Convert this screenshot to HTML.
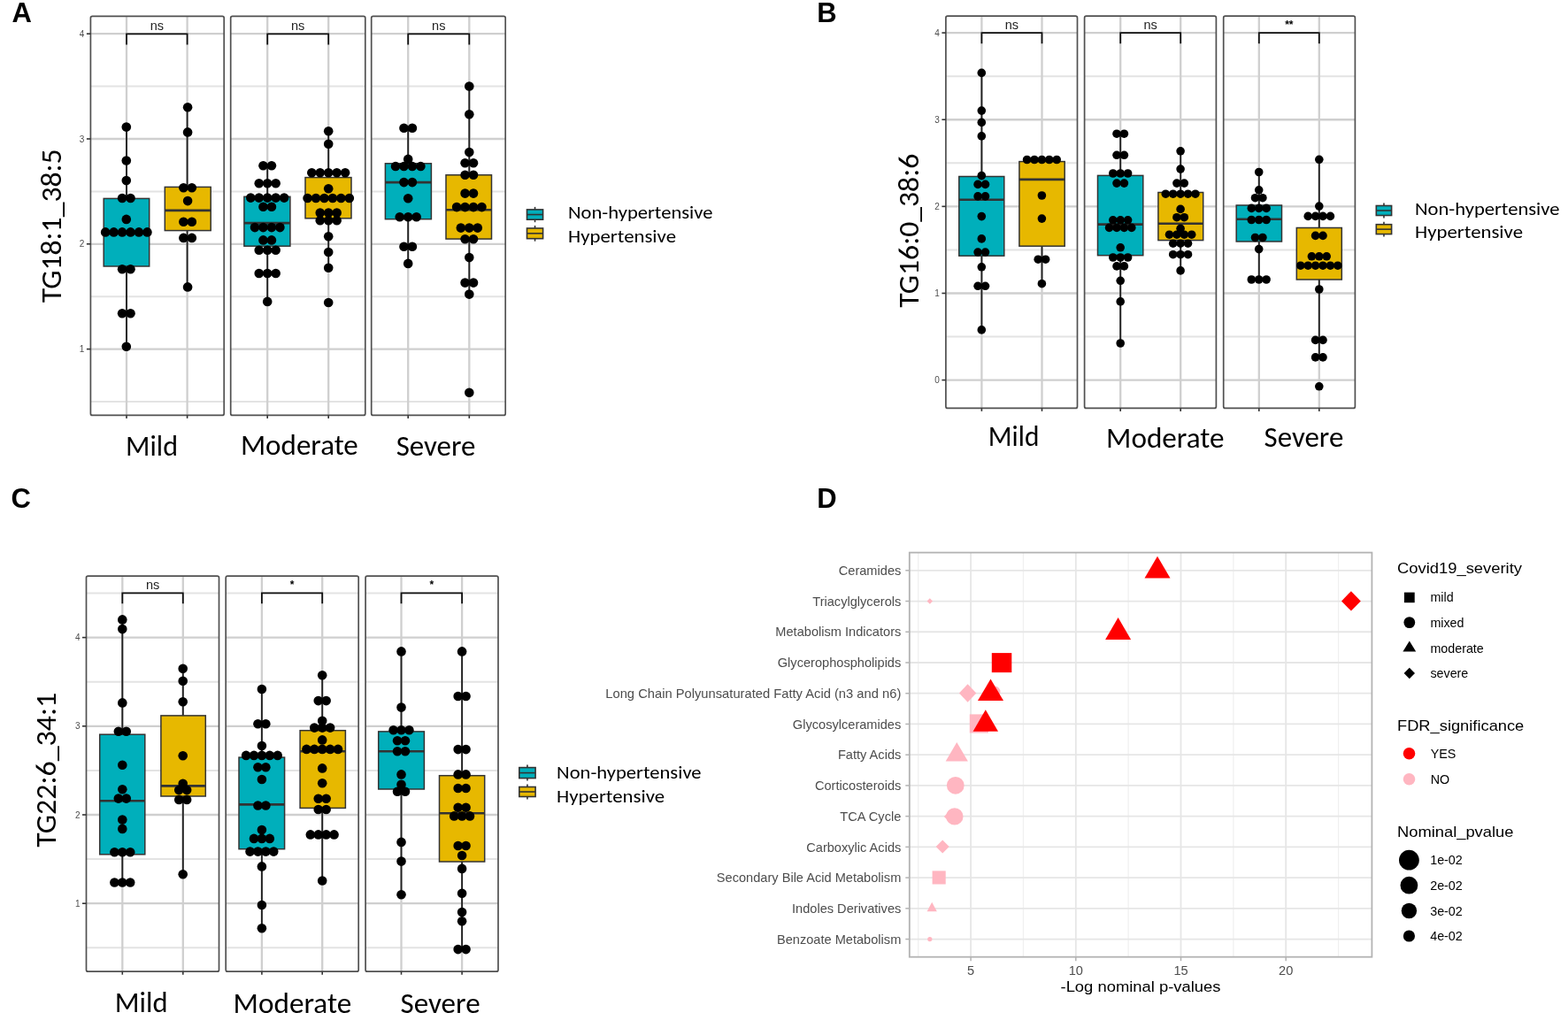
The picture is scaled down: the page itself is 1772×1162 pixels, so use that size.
<!DOCTYPE html>
<html><head><meta charset="utf-8"><title>Figure</title>
<style>html,body{margin:0;padding:0;background:#fff;}svg{display:block;}</style>
</head><body>
<svg width="1772" height="1162" viewBox="0 0 1772 1162">
<rect width="1772" height="1162" fill="#fff"/>
<g>
<line x1="102.4" y1="454" x2="253.2" y2="454" stroke="#e3e3e3" stroke-width="2" />
<line x1="102.4" y1="335.2" x2="253.2" y2="335.2" stroke="#e3e3e3" stroke-width="2" />
<line x1="102.4" y1="216.4" x2="253.2" y2="216.4" stroke="#e3e3e3" stroke-width="2" />
<line x1="102.4" y1="97.6" x2="253.2" y2="97.6" stroke="#e3e3e3" stroke-width="2" />
<line x1="102.4" y1="394.6" x2="253.2" y2="394.6" stroke="#cfcfcf" stroke-width="2.3" />
<line x1="102.4" y1="275.8" x2="253.2" y2="275.8" stroke="#cfcfcf" stroke-width="2.3" />
<line x1="102.4" y1="157" x2="253.2" y2="157" stroke="#cfcfcf" stroke-width="2.3" />
<line x1="102.4" y1="38.2" x2="253.2" y2="38.2" stroke="#cfcfcf" stroke-width="2.3" />
<line x1="143" y1="18.3" x2="143" y2="469.4" stroke="#cfcfcf" stroke-width="2.3" />
<line x1="211.6" y1="18.3" x2="211.6" y2="469.4" stroke="#cfcfcf" stroke-width="2.3" />
<line x1="260.7" y1="454" x2="412.8" y2="454" stroke="#e3e3e3" stroke-width="2" />
<line x1="260.7" y1="335.2" x2="412.8" y2="335.2" stroke="#e3e3e3" stroke-width="2" />
<line x1="260.7" y1="216.4" x2="412.8" y2="216.4" stroke="#e3e3e3" stroke-width="2" />
<line x1="260.7" y1="97.6" x2="412.8" y2="97.6" stroke="#e3e3e3" stroke-width="2" />
<line x1="260.7" y1="394.6" x2="412.8" y2="394.6" stroke="#cfcfcf" stroke-width="2.3" />
<line x1="260.7" y1="275.8" x2="412.8" y2="275.8" stroke="#cfcfcf" stroke-width="2.3" />
<line x1="260.7" y1="157" x2="412.8" y2="157" stroke="#cfcfcf" stroke-width="2.3" />
<line x1="260.7" y1="38.2" x2="412.8" y2="38.2" stroke="#cfcfcf" stroke-width="2.3" />
<line x1="302.2" y1="18.3" x2="302.2" y2="469.4" stroke="#cfcfcf" stroke-width="2.3" />
<line x1="371.2" y1="18.3" x2="371.2" y2="469.4" stroke="#cfcfcf" stroke-width="2.3" />
<line x1="419.7" y1="454" x2="571.2" y2="454" stroke="#e3e3e3" stroke-width="2" />
<line x1="419.7" y1="335.2" x2="571.2" y2="335.2" stroke="#e3e3e3" stroke-width="2" />
<line x1="419.7" y1="216.4" x2="571.2" y2="216.4" stroke="#e3e3e3" stroke-width="2" />
<line x1="419.7" y1="97.6" x2="571.2" y2="97.6" stroke="#e3e3e3" stroke-width="2" />
<line x1="419.7" y1="394.6" x2="571.2" y2="394.6" stroke="#cfcfcf" stroke-width="2.3" />
<line x1="419.7" y1="275.8" x2="571.2" y2="275.8" stroke="#cfcfcf" stroke-width="2.3" />
<line x1="419.7" y1="157" x2="571.2" y2="157" stroke="#cfcfcf" stroke-width="2.3" />
<line x1="419.7" y1="38.2" x2="571.2" y2="38.2" stroke="#cfcfcf" stroke-width="2.3" />
<line x1="461.2" y1="18.3" x2="461.2" y2="469.4" stroke="#cfcfcf" stroke-width="2.3" />
<line x1="530.3" y1="18.3" x2="530.3" y2="469.4" stroke="#cfcfcf" stroke-width="2.3" />
<line x1="143" y1="143.6" x2="143" y2="391.7" stroke="#222" stroke-width="1.9" />
<rect x="117.2" y="224.4" width="51.5" height="76.6" fill="#00AFBB" stroke="#333" stroke-width="1.5" />
<line x1="117.2" y1="262.2" x2="168.7" y2="262.2" stroke="#333" stroke-width="2.6" />
<line x1="211.6" y1="121.2" x2="211.6" y2="324.5" stroke="#222" stroke-width="1.9" />
<rect x="186.3" y="211.4" width="51.9" height="49.2" fill="#E7B800" stroke="#333" stroke-width="1.5" />
<line x1="186.3" y1="237.9" x2="238.2" y2="237.9" stroke="#333" stroke-width="2.6" />
<g fill="#000"><circle cx="142.8" cy="143.6" r="5.3"/><circle cx="142.8" cy="181.5" r="5.3"/><circle cx="142.8" cy="204.1" r="5.3"/><circle cx="138.08" cy="224" r="5.3"/><circle cx="147.53" cy="224" r="5.3"/><circle cx="142.8" cy="247.9" r="5.3"/><circle cx="119.18" cy="262.4" r="5.3"/><circle cx="128.62" cy="262.4" r="5.3"/><circle cx="138.08" cy="262.4" r="5.3"/><circle cx="147.53" cy="262.4" r="5.3"/><circle cx="156.98" cy="262.4" r="5.3"/><circle cx="166.43" cy="262.4" r="5.3"/><circle cx="138.08" cy="304.2" r="5.3"/><circle cx="147.53" cy="304.2" r="5.3"/><circle cx="138.08" cy="354.3" r="5.3"/><circle cx="147.53" cy="354.3" r="5.3"/><circle cx="142.8" cy="391.7" r="5.3"/></g>
<g fill="#000"><circle cx="212.1" cy="121.2" r="5.3"/><circle cx="212.1" cy="149.4" r="5.3"/><circle cx="207.38" cy="212.3" r="5.3"/><circle cx="216.82" cy="212.3" r="5.3"/><circle cx="212.1" cy="227.1" r="5.3"/><circle cx="207.38" cy="250.8" r="5.3"/><circle cx="216.82" cy="250.8" r="5.3"/><circle cx="207.38" cy="268.9" r="5.3"/><circle cx="216.82" cy="268.9" r="5.3"/><circle cx="212.1" cy="324.4" r="5.3"/></g>
<path d="M143 50.4 V38.4 H211.6 V50.4" fill="none" stroke="#111" stroke-width="1.8"/>
<text x="177.3" y="33.9" font-size="14.5" fill="#222" font-family="'Liberation Sans', Arial, sans-serif" text-anchor="middle" font-weight="normal" >ns</text>
<rect x="102.4" y="18.3" width="150.8" height="451.1" fill="none" stroke="#505050" stroke-width="1.7" rx="2"/>
<line x1="143" y1="469.4" x2="143" y2="472.9" stroke="#333" stroke-width="1.6" />
<line x1="211.6" y1="469.4" x2="211.6" y2="472.9" stroke="#333" stroke-width="1.6" />
<line x1="302.2" y1="187.2" x2="302.2" y2="340.9" stroke="#222" stroke-width="1.9" />
<rect x="275.9" y="222.3" width="52" height="55.9" fill="#00AFBB" stroke="#333" stroke-width="1.5" />
<line x1="275.9" y1="252.1" x2="327.9" y2="252.1" stroke="#333" stroke-width="2.6" />
<line x1="371.2" y1="148.3" x2="371.2" y2="302.8" stroke="#222" stroke-width="1.9" />
<rect x="345" y="200.6" width="52" height="46.2" fill="#E7B800" stroke="#333" stroke-width="1.5" />
<line x1="345" y1="224" x2="397" y2="224" stroke="#333" stroke-width="2.6" />
<g fill="#000"><circle cx="297.47" cy="187.2" r="5.3"/><circle cx="306.93" cy="187.2" r="5.3"/><circle cx="292.75" cy="207.3" r="5.3"/><circle cx="302.2" cy="207.3" r="5.3"/><circle cx="311.65" cy="207.3" r="5.3"/><circle cx="283.3" cy="223.6" r="5.3"/><circle cx="292.75" cy="223.6" r="5.3"/><circle cx="302.2" cy="223.6" r="5.3"/><circle cx="311.65" cy="223.6" r="5.3"/><circle cx="321.1" cy="223.6" r="5.3"/><circle cx="297.47" cy="233.8" r="5.3"/><circle cx="306.93" cy="233.8" r="5.3"/><circle cx="288.02" cy="257.1" r="5.3"/><circle cx="297.47" cy="257.1" r="5.3"/><circle cx="306.93" cy="257.1" r="5.3"/><circle cx="316.38" cy="257.1" r="5.3"/><circle cx="297.47" cy="271.4" r="5.3"/><circle cx="306.93" cy="271.4" r="5.3"/><circle cx="292.75" cy="282.8" r="5.3"/><circle cx="302.2" cy="282.8" r="5.3"/><circle cx="311.65" cy="282.8" r="5.3"/><circle cx="292.75" cy="309" r="5.3"/><circle cx="302.2" cy="309" r="5.3"/><circle cx="311.65" cy="309" r="5.3"/><circle cx="302.2" cy="340.9" r="5.3"/></g>
<g fill="#000"><circle cx="371.2" cy="148.3" r="5.3"/><circle cx="371.2" cy="162.7" r="5.3"/><circle cx="352.3" cy="195.3" r="5.3"/><circle cx="361.75" cy="195.3" r="5.3"/><circle cx="371.2" cy="195.3" r="5.3"/><circle cx="380.65" cy="195.3" r="5.3"/><circle cx="390.1" cy="195.3" r="5.3"/><circle cx="371.2" cy="213.3" r="5.3"/><circle cx="347.57" cy="224" r="5.3"/><circle cx="357.02" cy="224" r="5.3"/><circle cx="366.47" cy="224" r="5.3"/><circle cx="375.93" cy="224" r="5.3"/><circle cx="385.38" cy="224" r="5.3"/><circle cx="394.82" cy="224" r="5.3"/><circle cx="361.75" cy="240.6" r="5.3"/><circle cx="371.2" cy="240.6" r="5.3"/><circle cx="380.65" cy="240.6" r="5.3"/><circle cx="361.75" cy="249.3" r="5.3"/><circle cx="371.2" cy="249.3" r="5.3"/><circle cx="380.65" cy="249.3" r="5.3"/><circle cx="371.2" cy="267.3" r="5.3"/><circle cx="371.2" cy="285" r="5.3"/><circle cx="371.2" cy="302.8" r="5.3"/><circle cx="371.2" cy="342" r="5.3"/></g>
<path d="M302.2 50.4 V38.4 H371.2 V50.4" fill="none" stroke="#111" stroke-width="1.8"/>
<text x="336.7" y="33.9" font-size="14.5" fill="#222" font-family="'Liberation Sans', Arial, sans-serif" text-anchor="middle" font-weight="normal" >ns</text>
<rect x="260.7" y="18.3" width="152.1" height="451.1" fill="none" stroke="#505050" stroke-width="1.7" rx="2"/>
<line x1="302.2" y1="469.4" x2="302.2" y2="472.9" stroke="#333" stroke-width="1.6" />
<line x1="371.2" y1="469.4" x2="371.2" y2="472.9" stroke="#333" stroke-width="1.6" />
<line x1="461.2" y1="144.7" x2="461.2" y2="297.9" stroke="#222" stroke-width="1.9" />
<rect x="435.4" y="184.8" width="52" height="62.9" fill="#00AFBB" stroke="#333" stroke-width="1.5" />
<line x1="435.4" y1="206.1" x2="487.4" y2="206.1" stroke="#333" stroke-width="2.6" />
<line x1="530.3" y1="97.5" x2="530.3" y2="332.6" stroke="#222" stroke-width="1.9" />
<rect x="504" y="197.8" width="51.5" height="72.3" fill="#E7B800" stroke="#333" stroke-width="1.5" />
<line x1="504" y1="237.2" x2="555.5" y2="237.2" stroke="#333" stroke-width="2.6" />
<g fill="#000"><circle cx="456.47" cy="144.7" r="5.3"/><circle cx="465.93" cy="144.7" r="5.3"/><circle cx="461.2" cy="179.9" r="5.3"/><circle cx="447.02" cy="188" r="5.3"/><circle cx="456.47" cy="188" r="5.3"/><circle cx="465.93" cy="188" r="5.3"/><circle cx="475.38" cy="188" r="5.3"/><circle cx="456.47" cy="206.1" r="5.3"/><circle cx="465.93" cy="206.1" r="5.3"/><circle cx="461.2" cy="224.2" r="5.3"/><circle cx="451.75" cy="245.3" r="5.3"/><circle cx="461.2" cy="245.3" r="5.3"/><circle cx="470.65" cy="245.3" r="5.3"/><circle cx="456.47" cy="278.7" r="5.3"/><circle cx="465.93" cy="278.7" r="5.3"/><circle cx="461.2" cy="297.9" r="5.3"/></g>
<g fill="#000"><circle cx="530.3" cy="97.5" r="5.3"/><circle cx="530.3" cy="129.3" r="5.3"/><circle cx="530.3" cy="172.1" r="5.3"/><circle cx="525.57" cy="184.2" r="5.3"/><circle cx="535.02" cy="184.2" r="5.3"/><circle cx="525.57" cy="197.8" r="5.3"/><circle cx="535.02" cy="197.8" r="5.3"/><circle cx="525.57" cy="218.6" r="5.3"/><circle cx="535.02" cy="218.6" r="5.3"/><circle cx="516.12" cy="234.1" r="5.3"/><circle cx="525.57" cy="234.1" r="5.3"/><circle cx="535.02" cy="234.1" r="5.3"/><circle cx="544.47" cy="234.1" r="5.3"/><circle cx="520.85" cy="257.6" r="5.3"/><circle cx="530.3" cy="257.6" r="5.3"/><circle cx="539.75" cy="257.6" r="5.3"/><circle cx="525.57" cy="270.2" r="5.3"/><circle cx="535.02" cy="270.2" r="5.3"/><circle cx="530.3" cy="291.1" r="5.3"/><circle cx="525.57" cy="319.6" r="5.3"/><circle cx="535.02" cy="319.6" r="5.3"/><circle cx="530.3" cy="332.6" r="5.3"/><circle cx="530.3" cy="443.7" r="5.3"/></g>
<path d="M461.2 50.4 V38.4 H530.3 V50.4" fill="none" stroke="#111" stroke-width="1.8"/>
<text x="495.75" y="33.9" font-size="14.5" fill="#222" font-family="'Liberation Sans', Arial, sans-serif" text-anchor="middle" font-weight="normal" >ns</text>
<rect x="419.7" y="18.3" width="151.5" height="451.1" fill="none" stroke="#505050" stroke-width="1.7" rx="2"/>
<line x1="461.2" y1="469.4" x2="461.2" y2="472.9" stroke="#333" stroke-width="1.6" />
<line x1="530.3" y1="469.4" x2="530.3" y2="472.9" stroke="#333" stroke-width="1.6" />
<line x1="97.9" y1="394.6" x2="102.4" y2="394.6" stroke="#333" stroke-width="1.6" />
<text x="95.4" y="398.2" font-size="10" fill="#4d4d4d" font-family="'Liberation Sans', Arial, sans-serif" text-anchor="end" font-weight="normal" >1</text>
<line x1="97.9" y1="275.8" x2="102.4" y2="275.8" stroke="#333" stroke-width="1.6" />
<text x="95.4" y="279.4" font-size="10" fill="#4d4d4d" font-family="'Liberation Sans', Arial, sans-serif" text-anchor="end" font-weight="normal" >2</text>
<line x1="97.9" y1="157" x2="102.4" y2="157" stroke="#333" stroke-width="1.6" />
<text x="95.4" y="160.6" font-size="10" fill="#4d4d4d" font-family="'Liberation Sans', Arial, sans-serif" text-anchor="end" font-weight="normal" >3</text>
<line x1="97.9" y1="38.2" x2="102.4" y2="38.2" stroke="#333" stroke-width="1.6" />
<text x="95.4" y="41.8" font-size="10" fill="#4d4d4d" font-family="'Liberation Sans', Arial, sans-serif" text-anchor="end" font-weight="normal" >4</text>
<text transform="translate(68.6,342.3) rotate(-90)" font-size="33.5" font-family="Carlito, 'Liberation Sans', sans-serif" fill="#000" textLength="174" lengthAdjust="spacingAndGlyphs">TG18:1_38:5</text>
<text x="142" y="515" font-size="32.5" fill="#000" font-family="Carlito, 'Liberation Sans', sans-serif" text-anchor="start" font-weight="normal" textLength="59" lengthAdjust="spacingAndGlyphs" >Mild</text>
<text x="271.9" y="514" font-size="32.5" fill="#000" font-family="Carlito, 'Liberation Sans', sans-serif" text-anchor="start" font-weight="normal" textLength="132.9" lengthAdjust="spacingAndGlyphs" >Moderate</text>
<text x="447.7" y="514.5" font-size="32.5" fill="#000" font-family="Carlito, 'Liberation Sans', sans-serif" text-anchor="start" font-weight="normal" textLength="89.7" lengthAdjust="spacingAndGlyphs" >Severe</text>
<line x1="604.55" y1="233.9" x2="604.55" y2="251.2" stroke="#333" stroke-width="1.6" />
<rect x="595.5" y="236.9" width="18.1" height="11.3" fill="#00AFBB" stroke="#333" stroke-width="1.6" />
<line x1="595.5" y1="242.55" x2="613.6" y2="242.55" stroke="#333" stroke-width="1.6" />
<line x1="604.55" y1="255" x2="604.55" y2="272.7" stroke="#333" stroke-width="1.6" />
<rect x="595.5" y="258" width="18.1" height="11.7" fill="#E7B800" stroke="#333" stroke-width="1.6" />
<line x1="595.5" y1="263.85" x2="613.6" y2="263.85" stroke="#333" stroke-width="1.6" />
<text x="642" y="247.4" font-size="21.3" fill="#000" font-family="Carlito, 'Liberation Sans', sans-serif" text-anchor="start" font-weight="normal" textLength="163.5" lengthAdjust="spacingAndGlyphs" >Non-hypertensive</text>
<text x="642" y="274" font-size="21.3" fill="#000" font-family="Carlito, 'Liberation Sans', sans-serif" text-anchor="start" font-weight="normal" textLength="122" lengthAdjust="spacingAndGlyphs" >Hypertensive</text>
<line x1="1068.9" y1="380.54" x2="1217.5" y2="380.54" stroke="#e3e3e3" stroke-width="2" />
<line x1="1068.9" y1="282.41" x2="1217.5" y2="282.41" stroke="#e3e3e3" stroke-width="2" />
<line x1="1068.9" y1="184.29" x2="1217.5" y2="184.29" stroke="#e3e3e3" stroke-width="2" />
<line x1="1068.9" y1="86.16" x2="1217.5" y2="86.16" stroke="#e3e3e3" stroke-width="2" />
<line x1="1068.9" y1="429.6" x2="1217.5" y2="429.6" stroke="#cfcfcf" stroke-width="2.3" />
<line x1="1068.9" y1="331.48" x2="1217.5" y2="331.48" stroke="#cfcfcf" stroke-width="2.3" />
<line x1="1068.9" y1="233.35" x2="1217.5" y2="233.35" stroke="#cfcfcf" stroke-width="2.3" />
<line x1="1068.9" y1="135.23" x2="1217.5" y2="135.23" stroke="#cfcfcf" stroke-width="2.3" />
<line x1="1068.9" y1="37.1" x2="1217.5" y2="37.1" stroke="#cfcfcf" stroke-width="2.3" />
<line x1="1109.4" y1="18.2" x2="1109.4" y2="461.4" stroke="#cfcfcf" stroke-width="2.3" />
<line x1="1177.5" y1="18.2" x2="1177.5" y2="461.4" stroke="#cfcfcf" stroke-width="2.3" />
<line x1="1225.6" y1="380.54" x2="1374.4" y2="380.54" stroke="#e3e3e3" stroke-width="2" />
<line x1="1225.6" y1="282.41" x2="1374.4" y2="282.41" stroke="#e3e3e3" stroke-width="2" />
<line x1="1225.6" y1="184.29" x2="1374.4" y2="184.29" stroke="#e3e3e3" stroke-width="2" />
<line x1="1225.6" y1="86.16" x2="1374.4" y2="86.16" stroke="#e3e3e3" stroke-width="2" />
<line x1="1225.6" y1="429.6" x2="1374.4" y2="429.6" stroke="#cfcfcf" stroke-width="2.3" />
<line x1="1225.6" y1="331.48" x2="1374.4" y2="331.48" stroke="#cfcfcf" stroke-width="2.3" />
<line x1="1225.6" y1="233.35" x2="1374.4" y2="233.35" stroke="#cfcfcf" stroke-width="2.3" />
<line x1="1225.6" y1="135.23" x2="1374.4" y2="135.23" stroke="#cfcfcf" stroke-width="2.3" />
<line x1="1225.6" y1="37.1" x2="1374.4" y2="37.1" stroke="#cfcfcf" stroke-width="2.3" />
<line x1="1266.2" y1="18.2" x2="1266.2" y2="461.4" stroke="#cfcfcf" stroke-width="2.3" />
<line x1="1334.2" y1="18.2" x2="1334.2" y2="461.4" stroke="#cfcfcf" stroke-width="2.3" />
<line x1="1382.7" y1="380.54" x2="1531.4" y2="380.54" stroke="#e3e3e3" stroke-width="2" />
<line x1="1382.7" y1="282.41" x2="1531.4" y2="282.41" stroke="#e3e3e3" stroke-width="2" />
<line x1="1382.7" y1="184.29" x2="1531.4" y2="184.29" stroke="#e3e3e3" stroke-width="2" />
<line x1="1382.7" y1="86.16" x2="1531.4" y2="86.16" stroke="#e3e3e3" stroke-width="2" />
<line x1="1382.7" y1="429.6" x2="1531.4" y2="429.6" stroke="#cfcfcf" stroke-width="2.3" />
<line x1="1382.7" y1="331.48" x2="1531.4" y2="331.48" stroke="#cfcfcf" stroke-width="2.3" />
<line x1="1382.7" y1="233.35" x2="1531.4" y2="233.35" stroke="#cfcfcf" stroke-width="2.3" />
<line x1="1382.7" y1="135.23" x2="1531.4" y2="135.23" stroke="#cfcfcf" stroke-width="2.3" />
<line x1="1382.7" y1="37.1" x2="1531.4" y2="37.1" stroke="#cfcfcf" stroke-width="2.3" />
<line x1="1422.8" y1="18.2" x2="1422.8" y2="461.4" stroke="#cfcfcf" stroke-width="2.3" />
<line x1="1490.8" y1="18.2" x2="1490.8" y2="461.4" stroke="#cfcfcf" stroke-width="2.3" />
<line x1="1109.4" y1="82.4" x2="1109.4" y2="372.9" stroke="#222" stroke-width="1.9" />
<rect x="1083.8" y="199.5" width="51" height="89.7" fill="#00AFBB" stroke="#333" stroke-width="1.5" />
<line x1="1083.8" y1="225.7" x2="1134.8" y2="225.7" stroke="#333" stroke-width="2.6" />
<line x1="1177.5" y1="180.5" x2="1177.5" y2="320.7" stroke="#222" stroke-width="1.9" />
<rect x="1151.9" y="182.6" width="51.3" height="95.6" fill="#E7B800" stroke="#333" stroke-width="1.5" />
<line x1="1151.9" y1="202.9" x2="1203.2" y2="202.9" stroke="#333" stroke-width="2.6" />
<g fill="#000"><circle cx="1109.3" cy="82.4" r="4.8"/><circle cx="1109.3" cy="125.1" r="4.8"/><circle cx="1109.3" cy="138.4" r="4.8"/><circle cx="1109.3" cy="153.9" r="4.8"/><circle cx="1109.3" cy="198.6" r="4.8"/><circle cx="1105.1" cy="208.4" r="4.8"/><circle cx="1113.5" cy="208.4" r="4.8"/><circle cx="1105.1" cy="221.9" r="4.8"/><circle cx="1113.5" cy="221.9" r="4.8"/><circle cx="1109.3" cy="244.6" r="4.8"/><circle cx="1109.3" cy="269.9" r="4.8"/><circle cx="1105.1" cy="285.1" r="4.8"/><circle cx="1113.5" cy="285.1" r="4.8"/><circle cx="1109.3" cy="301.8" r="4.8"/><circle cx="1105.1" cy="323.3" r="4.8"/><circle cx="1113.5" cy="323.3" r="4.8"/><circle cx="1109.3" cy="372.9" r="4.8"/></g>
<g fill="#000"><circle cx="1160.6" cy="180.5" r="4.8"/><circle cx="1169" cy="180.5" r="4.8"/><circle cx="1177.4" cy="180.5" r="4.8"/><circle cx="1185.8" cy="180.5" r="4.8"/><circle cx="1194.2" cy="180.5" r="4.8"/><circle cx="1177.4" cy="221" r="4.8"/><circle cx="1177.4" cy="247.1" r="4.8"/><circle cx="1173.2" cy="293.2" r="4.8"/><circle cx="1181.6" cy="293.2" r="4.8"/><circle cx="1177.4" cy="320.7" r="4.8"/></g>
<path d="M1109.4 49.2 V37.2 H1177.5 V49.2" fill="none" stroke="#111" stroke-width="1.8"/>
<text x="1143.45" y="32.7" font-size="14.5" fill="#222" font-family="'Liberation Sans', Arial, sans-serif" text-anchor="middle" font-weight="normal" >ns</text>
<rect x="1068.9" y="18.2" width="148.6" height="443.2" fill="none" stroke="#505050" stroke-width="1.7" rx="2"/>
<line x1="1109.4" y1="461.4" x2="1109.4" y2="464.9" stroke="#333" stroke-width="1.6" />
<line x1="1177.5" y1="461.4" x2="1177.5" y2="464.9" stroke="#333" stroke-width="1.6" />
<line x1="1266.2" y1="151.2" x2="1266.2" y2="388" stroke="#222" stroke-width="1.9" />
<rect x="1240.5" y="198.4" width="51.3" height="90.3" fill="#00AFBB" stroke="#333" stroke-width="1.5" />
<line x1="1240.5" y1="253.6" x2="1291.8" y2="253.6" stroke="#333" stroke-width="2.6" />
<line x1="1334.2" y1="170.8" x2="1334.2" y2="305.8" stroke="#222" stroke-width="1.9" />
<rect x="1308.9" y="217.5" width="50.8" height="54.1" fill="#E7B800" stroke="#333" stroke-width="1.5" />
<line x1="1308.9" y1="252.8" x2="1359.7" y2="252.8" stroke="#333" stroke-width="2.6" />
<g fill="#000"><circle cx="1262" cy="151.2" r="4.8"/><circle cx="1270.4" cy="151.2" r="4.8"/><circle cx="1262" cy="175.3" r="4.8"/><circle cx="1270.4" cy="175.3" r="4.8"/><circle cx="1257.8" cy="196" r="4.8"/><circle cx="1266.2" cy="196" r="4.8"/><circle cx="1274.6" cy="196" r="4.8"/><circle cx="1262" cy="207.1" r="4.8"/><circle cx="1270.4" cy="207.1" r="4.8"/><circle cx="1257.8" cy="248.8" r="4.8"/><circle cx="1266.2" cy="248.8" r="4.8"/><circle cx="1274.6" cy="248.8" r="4.8"/><circle cx="1253.6" cy="257.4" r="4.8"/><circle cx="1262" cy="257.4" r="4.8"/><circle cx="1270.4" cy="257.4" r="4.8"/><circle cx="1278.8" cy="257.4" r="4.8"/><circle cx="1266.2" cy="279.8" r="4.8"/><circle cx="1257.8" cy="291" r="4.8"/><circle cx="1266.2" cy="291" r="4.8"/><circle cx="1274.6" cy="291" r="4.8"/><circle cx="1262" cy="300.9" r="4.8"/><circle cx="1270.4" cy="300.9" r="4.8"/><circle cx="1266.2" cy="317.3" r="4.8"/><circle cx="1266.2" cy="340.9" r="4.8"/><circle cx="1266.2" cy="388" r="4.8"/></g>
<g fill="#000"><circle cx="1334.1" cy="170.8" r="4.8"/><circle cx="1334.1" cy="191.1" r="4.8"/><circle cx="1329.9" cy="207.1" r="4.8"/><circle cx="1338.3" cy="207.1" r="4.8"/><circle cx="1317.3" cy="219.2" r="4.8"/><circle cx="1325.7" cy="219.2" r="4.8"/><circle cx="1334.1" cy="219.2" r="4.8"/><circle cx="1342.5" cy="219.2" r="4.8"/><circle cx="1350.9" cy="219.2" r="4.8"/><circle cx="1334.1" cy="236.4" r="4.8"/><circle cx="1329.9" cy="245.7" r="4.8"/><circle cx="1338.3" cy="245.7" r="4.8"/><circle cx="1334.1" cy="258.3" r="4.8"/><circle cx="1321.5" cy="265.2" r="4.8"/><circle cx="1329.9" cy="265.2" r="4.8"/><circle cx="1338.3" cy="265.2" r="4.8"/><circle cx="1346.7" cy="265.2" r="4.8"/><circle cx="1325.7" cy="275.2" r="4.8"/><circle cx="1334.1" cy="275.2" r="4.8"/><circle cx="1342.5" cy="275.2" r="4.8"/><circle cx="1325.7" cy="287.7" r="4.8"/><circle cx="1334.1" cy="287.7" r="4.8"/><circle cx="1342.5" cy="287.7" r="4.8"/><circle cx="1334.1" cy="305.9" r="4.8"/></g>
<path d="M1266.2 49.2 V37.2 H1334.2 V49.2" fill="none" stroke="#111" stroke-width="1.8"/>
<text x="1300.2" y="32.7" font-size="14.5" fill="#222" font-family="'Liberation Sans', Arial, sans-serif" text-anchor="middle" font-weight="normal" >ns</text>
<rect x="1225.6" y="18.2" width="148.8" height="443.2" fill="none" stroke="#505050" stroke-width="1.7" rx="2"/>
<line x1="1266.2" y1="461.4" x2="1266.2" y2="464.9" stroke="#333" stroke-width="1.6" />
<line x1="1334.2" y1="461.4" x2="1334.2" y2="464.9" stroke="#333" stroke-width="1.6" />
<line x1="1422.8" y1="194.5" x2="1422.8" y2="316" stroke="#222" stroke-width="1.9" />
<rect x="1397.2" y="232" width="51.3" height="41" fill="#00AFBB" stroke="#333" stroke-width="1.5" />
<line x1="1397.2" y1="247.8" x2="1448.5" y2="247.8" stroke="#333" stroke-width="2.6" />
<line x1="1490.8" y1="180.3" x2="1490.8" y2="403.9" stroke="#222" stroke-width="1.9" />
<rect x="1465.3" y="257.5" width="51" height="58.5" fill="#E7B800" stroke="#333" stroke-width="1.5" />
<line x1="1465.3" y1="300.2" x2="1516.3" y2="300.2" stroke="#333" stroke-width="2.6" />
<g fill="#000"><circle cx="1422.7" cy="194.5" r="4.8"/><circle cx="1422.7" cy="214.8" r="4.8"/><circle cx="1418.5" cy="223.7" r="4.8"/><circle cx="1426.9" cy="223.7" r="4.8"/><circle cx="1414.3" cy="235.4" r="4.8"/><circle cx="1422.7" cy="235.4" r="4.8"/><circle cx="1431.1" cy="235.4" r="4.8"/><circle cx="1414.3" cy="248.5" r="4.8"/><circle cx="1422.7" cy="248.5" r="4.8"/><circle cx="1431.1" cy="248.5" r="4.8"/><circle cx="1418.5" cy="268.5" r="4.8"/><circle cx="1426.9" cy="268.5" r="4.8"/><circle cx="1422.7" cy="281.6" r="4.8"/><circle cx="1414.3" cy="316" r="4.8"/><circle cx="1422.7" cy="316" r="4.8"/><circle cx="1431.1" cy="316" r="4.8"/></g>
<g fill="#000"><circle cx="1490.8" cy="180.3" r="4.8"/><circle cx="1490.8" cy="233.1" r="4.8"/><circle cx="1478.2" cy="244.4" r="4.8"/><circle cx="1486.6" cy="244.4" r="4.8"/><circle cx="1495" cy="244.4" r="4.8"/><circle cx="1503.4" cy="244.4" r="4.8"/><circle cx="1486.6" cy="266.4" r="4.8"/><circle cx="1495" cy="266.4" r="4.8"/><circle cx="1482.4" cy="289.8" r="4.8"/><circle cx="1490.8" cy="289.8" r="4.8"/><circle cx="1499.2" cy="289.8" r="4.8"/><circle cx="1469.8" cy="300.2" r="4.8"/><circle cx="1478.2" cy="300.2" r="4.8"/><circle cx="1486.6" cy="300.2" r="4.8"/><circle cx="1495" cy="300.2" r="4.8"/><circle cx="1503.4" cy="300.2" r="4.8"/><circle cx="1511.8" cy="300.2" r="4.8"/><circle cx="1490.8" cy="327" r="4.8"/><circle cx="1486.6" cy="384.4" r="4.8"/><circle cx="1495" cy="384.4" r="4.8"/><circle cx="1486.6" cy="403.9" r="4.8"/><circle cx="1495" cy="403.9" r="4.8"/><circle cx="1490.8" cy="436.8" r="4.8"/></g>
<path d="M1422.8 49.2 V37.2 H1490.8 V49.2" fill="none" stroke="#111" stroke-width="1.8"/>
<text x="1456.8" y="32.3" font-size="12" fill="#000" font-family="'Liberation Sans', Arial, sans-serif" text-anchor="middle" font-weight="bold" >**</text>
<rect x="1382.7" y="18.2" width="148.7" height="443.2" fill="none" stroke="#505050" stroke-width="1.7" rx="2"/>
<line x1="1422.8" y1="461.4" x2="1422.8" y2="464.9" stroke="#333" stroke-width="1.6" />
<line x1="1490.8" y1="461.4" x2="1490.8" y2="464.9" stroke="#333" stroke-width="1.6" />
<line x1="1064.4" y1="429.6" x2="1068.9" y2="429.6" stroke="#333" stroke-width="1.6" />
<text x="1061.9" y="433.2" font-size="10" fill="#4d4d4d" font-family="'Liberation Sans', Arial, sans-serif" text-anchor="end" font-weight="normal" >0</text>
<line x1="1064.4" y1="331.48" x2="1068.9" y2="331.48" stroke="#333" stroke-width="1.6" />
<text x="1061.9" y="335.08" font-size="10" fill="#4d4d4d" font-family="'Liberation Sans', Arial, sans-serif" text-anchor="end" font-weight="normal" >1</text>
<line x1="1064.4" y1="233.35" x2="1068.9" y2="233.35" stroke="#333" stroke-width="1.6" />
<text x="1061.9" y="236.95" font-size="10" fill="#4d4d4d" font-family="'Liberation Sans', Arial, sans-serif" text-anchor="end" font-weight="normal" >2</text>
<line x1="1064.4" y1="135.23" x2="1068.9" y2="135.23" stroke="#333" stroke-width="1.6" />
<text x="1061.9" y="138.83" font-size="10" fill="#4d4d4d" font-family="'Liberation Sans', Arial, sans-serif" text-anchor="end" font-weight="normal" >3</text>
<line x1="1064.4" y1="37.1" x2="1068.9" y2="37.1" stroke="#333" stroke-width="1.6" />
<text x="1061.9" y="40.7" font-size="10" fill="#4d4d4d" font-family="'Liberation Sans', Arial, sans-serif" text-anchor="end" font-weight="normal" >4</text>
<text transform="translate(1037.7,347.7) rotate(-90)" font-size="33.5" font-family="Carlito, 'Liberation Sans', sans-serif" fill="#000" textLength="174" lengthAdjust="spacingAndGlyphs">TG16:0_38:6</text>
<text x="1116.8" y="504.4" font-size="32.5" fill="#000" font-family="Carlito, 'Liberation Sans', sans-serif" text-anchor="start" font-weight="normal" textLength="57.6" lengthAdjust="spacingAndGlyphs" >Mild</text>
<text x="1250.1" y="505.8" font-size="32.5" fill="#000" font-family="Carlito, 'Liberation Sans', sans-serif" text-anchor="start" font-weight="normal" textLength="133.5" lengthAdjust="spacingAndGlyphs" >Moderate</text>
<text x="1428.6" y="505" font-size="32.5" fill="#000" font-family="Carlito, 'Liberation Sans', sans-serif" text-anchor="start" font-weight="normal" textLength="89.7" lengthAdjust="spacingAndGlyphs" >Severe</text>
<line x1="1563.95" y1="229.5" x2="1563.95" y2="246.5" stroke="#333" stroke-width="1.6" />
<rect x="1555.3" y="232.5" width="17.3" height="11" fill="#00AFBB" stroke="#333" stroke-width="1.6" />
<line x1="1555.3" y1="238" x2="1572.6" y2="238" stroke="#333" stroke-width="1.6" />
<line x1="1563.95" y1="250.7" x2="1563.95" y2="267.6" stroke="#333" stroke-width="1.6" />
<rect x="1555.3" y="253.7" width="17.3" height="10.9" fill="#E7B800" stroke="#333" stroke-width="1.6" />
<line x1="1555.3" y1="259.15" x2="1572.6" y2="259.15" stroke="#333" stroke-width="1.6" />
<text x="1599" y="242.8" font-size="21.3" fill="#000" font-family="Carlito, 'Liberation Sans', sans-serif" text-anchor="start" font-weight="normal" textLength="163.5" lengthAdjust="spacingAndGlyphs" >Non-hypertensive</text>
<text x="1599" y="269.4" font-size="21.3" fill="#000" font-family="Carlito, 'Liberation Sans', sans-serif" text-anchor="start" font-weight="normal" textLength="122" lengthAdjust="spacingAndGlyphs" >Hypertensive</text>
<line x1="97.5" y1="1071.3" x2="247.5" y2="1071.3" stroke="#e3e3e3" stroke-width="2" />
<line x1="97.5" y1="971.1" x2="247.5" y2="971.1" stroke="#e3e3e3" stroke-width="2" />
<line x1="97.5" y1="870.9" x2="247.5" y2="870.9" stroke="#e3e3e3" stroke-width="2" />
<line x1="97.5" y1="770.7" x2="247.5" y2="770.7" stroke="#e3e3e3" stroke-width="2" />
<line x1="97.5" y1="670.5" x2="247.5" y2="670.5" stroke="#e3e3e3" stroke-width="2" />
<line x1="97.5" y1="1021.2" x2="247.5" y2="1021.2" stroke="#cfcfcf" stroke-width="2.3" />
<line x1="97.5" y1="921" x2="247.5" y2="921" stroke="#cfcfcf" stroke-width="2.3" />
<line x1="97.5" y1="820.8" x2="247.5" y2="820.8" stroke="#cfcfcf" stroke-width="2.3" />
<line x1="97.5" y1="720.6" x2="247.5" y2="720.6" stroke="#cfcfcf" stroke-width="2.3" />
<line x1="138.3" y1="651.1" x2="138.3" y2="1098.2" stroke="#cfcfcf" stroke-width="2.3" />
<line x1="206.8" y1="651.1" x2="206.8" y2="1098.2" stroke="#cfcfcf" stroke-width="2.3" />
<line x1="255.2" y1="1071.3" x2="405.2" y2="1071.3" stroke="#e3e3e3" stroke-width="2" />
<line x1="255.2" y1="971.1" x2="405.2" y2="971.1" stroke="#e3e3e3" stroke-width="2" />
<line x1="255.2" y1="870.9" x2="405.2" y2="870.9" stroke="#e3e3e3" stroke-width="2" />
<line x1="255.2" y1="770.7" x2="405.2" y2="770.7" stroke="#e3e3e3" stroke-width="2" />
<line x1="255.2" y1="670.5" x2="405.2" y2="670.5" stroke="#e3e3e3" stroke-width="2" />
<line x1="255.2" y1="1021.2" x2="405.2" y2="1021.2" stroke="#cfcfcf" stroke-width="2.3" />
<line x1="255.2" y1="921" x2="405.2" y2="921" stroke="#cfcfcf" stroke-width="2.3" />
<line x1="255.2" y1="820.8" x2="405.2" y2="820.8" stroke="#cfcfcf" stroke-width="2.3" />
<line x1="255.2" y1="720.6" x2="405.2" y2="720.6" stroke="#cfcfcf" stroke-width="2.3" />
<line x1="295.9" y1="651.1" x2="295.9" y2="1098.2" stroke="#cfcfcf" stroke-width="2.3" />
<line x1="364.2" y1="651.1" x2="364.2" y2="1098.2" stroke="#cfcfcf" stroke-width="2.3" />
<line x1="413.1" y1="1071.3" x2="563" y2="1071.3" stroke="#e3e3e3" stroke-width="2" />
<line x1="413.1" y1="971.1" x2="563" y2="971.1" stroke="#e3e3e3" stroke-width="2" />
<line x1="413.1" y1="870.9" x2="563" y2="870.9" stroke="#e3e3e3" stroke-width="2" />
<line x1="413.1" y1="770.7" x2="563" y2="770.7" stroke="#e3e3e3" stroke-width="2" />
<line x1="413.1" y1="670.5" x2="563" y2="670.5" stroke="#e3e3e3" stroke-width="2" />
<line x1="413.1" y1="1021.2" x2="563" y2="1021.2" stroke="#cfcfcf" stroke-width="2.3" />
<line x1="413.1" y1="921" x2="563" y2="921" stroke="#cfcfcf" stroke-width="2.3" />
<line x1="413.1" y1="820.8" x2="563" y2="820.8" stroke="#cfcfcf" stroke-width="2.3" />
<line x1="413.1" y1="720.6" x2="563" y2="720.6" stroke="#cfcfcf" stroke-width="2.3" />
<line x1="453.5" y1="651.1" x2="453.5" y2="1098.2" stroke="#cfcfcf" stroke-width="2.3" />
<line x1="522.1" y1="651.1" x2="522.1" y2="1098.2" stroke="#cfcfcf" stroke-width="2.3" />
<line x1="138.3" y1="700.4" x2="138.3" y2="997.5" stroke="#222" stroke-width="1.9" />
<rect x="112.7" y="830.2" width="51.1" height="135.6" fill="#00AFBB" stroke="#333" stroke-width="1.5" />
<line x1="112.7" y1="905.2" x2="163.8" y2="905.2" stroke="#333" stroke-width="2.6" />
<line x1="206.8" y1="755.7" x2="206.8" y2="988.3" stroke="#222" stroke-width="1.9" />
<rect x="181.9" y="808.9" width="50.4" height="91.1" fill="#E7B800" stroke="#333" stroke-width="1.5" />
<line x1="181.9" y1="888.4" x2="232.3" y2="888.4" stroke="#333" stroke-width="2.6" />
<g fill="#000"><circle cx="138.3" cy="700.4" r="5.3"/><circle cx="138.3" cy="711.1" r="5.3"/><circle cx="138.3" cy="794.4" r="5.3"/><circle cx="133.85" cy="826.8" r="5.3"/><circle cx="142.75" cy="826.8" r="5.3"/><circle cx="138.3" cy="864.8" r="5.3"/><circle cx="138.3" cy="892.3" r="5.3"/><circle cx="133.85" cy="902.6" r="5.3"/><circle cx="142.75" cy="902.6" r="5.3"/><circle cx="138.3" cy="926.6" r="5.3"/><circle cx="138.3" cy="936.9" r="5.3"/><circle cx="129.4" cy="963.2" r="5.3"/><circle cx="138.3" cy="963.2" r="5.3"/><circle cx="147.2" cy="963.2" r="5.3"/><circle cx="129.4" cy="997.5" r="5.3"/><circle cx="138.3" cy="997.5" r="5.3"/><circle cx="147.2" cy="997.5" r="5.3"/></g>
<g fill="#000"><circle cx="206.7" cy="755.7" r="5.3"/><circle cx="206.7" cy="769.8" r="5.3"/><circle cx="206.7" cy="793.2" r="5.3"/><circle cx="206.7" cy="854.3" r="5.3"/><circle cx="206.7" cy="885.8" r="5.3"/><circle cx="202.25" cy="893" r="5.3"/><circle cx="211.15" cy="893" r="5.3"/><circle cx="202.25" cy="903.9" r="5.3"/><circle cx="211.15" cy="903.9" r="5.3"/><circle cx="206.7" cy="988.3" r="5.3"/></g>
<path d="M138.3 682.3 V670.3 H206.8 V682.3" fill="none" stroke="#111" stroke-width="1.8"/>
<text x="172.55" y="665.8" font-size="14.5" fill="#222" font-family="'Liberation Sans', Arial, sans-serif" text-anchor="middle" font-weight="normal" >ns</text>
<rect x="97.5" y="651.1" width="150" height="447.1" fill="none" stroke="#505050" stroke-width="1.7" rx="2"/>
<line x1="138.3" y1="1098.2" x2="138.3" y2="1101.7" stroke="#333" stroke-width="1.6" />
<line x1="206.8" y1="1098.2" x2="206.8" y2="1101.7" stroke="#333" stroke-width="1.6" />
<line x1="295.9" y1="779" x2="295.9" y2="1049.2" stroke="#222" stroke-width="1.9" />
<rect x="270" y="856.1" width="51.6" height="103.6" fill="#00AFBB" stroke="#333" stroke-width="1.5" />
<line x1="270" y1="909.4" x2="321.6" y2="909.4" stroke="#333" stroke-width="2.6" />
<line x1="364.2" y1="763.2" x2="364.2" y2="995.5" stroke="#222" stroke-width="1.9" />
<rect x="339.1" y="825.7" width="51.3" height="87.7" fill="#E7B800" stroke="#333" stroke-width="1.5" />
<line x1="339.1" y1="849.2" x2="390.4" y2="849.2" stroke="#333" stroke-width="2.6" />
<g fill="#000"><circle cx="295.9" cy="779" r="5.3"/><circle cx="291.45" cy="818.2" r="5.3"/><circle cx="300.35" cy="818.2" r="5.3"/><circle cx="295.9" cy="843" r="5.3"/><circle cx="278.1" cy="853.9" r="5.3"/><circle cx="287" cy="853.9" r="5.3"/><circle cx="295.9" cy="853.9" r="5.3"/><circle cx="304.8" cy="853.9" r="5.3"/><circle cx="313.7" cy="853.9" r="5.3"/><circle cx="291.45" cy="867.3" r="5.3"/><circle cx="300.35" cy="867.3" r="5.3"/><circle cx="295.9" cy="881" r="5.3"/><circle cx="291.45" cy="910.5" r="5.3"/><circle cx="300.35" cy="910.5" r="5.3"/><circle cx="295.9" cy="938" r="5.3"/><circle cx="287" cy="947.9" r="5.3"/><circle cx="295.9" cy="947.9" r="5.3"/><circle cx="304.8" cy="947.9" r="5.3"/><circle cx="282.55" cy="962.6" r="5.3"/><circle cx="291.45" cy="962.6" r="5.3"/><circle cx="300.35" cy="962.6" r="5.3"/><circle cx="309.25" cy="962.6" r="5.3"/><circle cx="295.9" cy="979.4" r="5.3"/><circle cx="295.9" cy="1023" r="5.3"/><circle cx="295.9" cy="1049.2" r="5.3"/></g>
<g fill="#000"><circle cx="364.2" cy="763.2" r="5.3"/><circle cx="359.75" cy="792.1" r="5.3"/><circle cx="368.65" cy="792.1" r="5.3"/><circle cx="364.2" cy="814.7" r="5.3"/><circle cx="355.3" cy="822.6" r="5.3"/><circle cx="364.2" cy="822.6" r="5.3"/><circle cx="373.1" cy="822.6" r="5.3"/><circle cx="364.2" cy="836.4" r="5.3"/><circle cx="346.4" cy="846.9" r="5.3"/><circle cx="355.3" cy="846.9" r="5.3"/><circle cx="364.2" cy="846.9" r="5.3"/><circle cx="373.1" cy="846.9" r="5.3"/><circle cx="382" cy="846.9" r="5.3"/><circle cx="364.2" cy="868.4" r="5.3"/><circle cx="364.2" cy="885.2" r="5.3"/><circle cx="359.75" cy="902.7" r="5.3"/><circle cx="368.65" cy="902.7" r="5.3"/><circle cx="359.75" cy="915" r="5.3"/><circle cx="368.65" cy="915" r="5.3"/><circle cx="350.85" cy="943.4" r="5.3"/><circle cx="359.75" cy="943.4" r="5.3"/><circle cx="368.65" cy="943.4" r="5.3"/><circle cx="377.55" cy="943.4" r="5.3"/><circle cx="364.2" cy="995.5" r="5.3"/></g>
<path d="M295.9 682.3 V670.3 H364.2 V682.3" fill="none" stroke="#111" stroke-width="1.8"/>
<text x="330.05" y="665.4" font-size="12" fill="#000" font-family="'Liberation Sans', Arial, sans-serif" text-anchor="middle" font-weight="bold" >*</text>
<rect x="255.2" y="651.1" width="150" height="447.1" fill="none" stroke="#505050" stroke-width="1.7" rx="2"/>
<line x1="295.9" y1="1098.2" x2="295.9" y2="1101.7" stroke="#333" stroke-width="1.6" />
<line x1="364.2" y1="1098.2" x2="364.2" y2="1101.7" stroke="#333" stroke-width="1.6" />
<line x1="453.5" y1="736.4" x2="453.5" y2="1011.2" stroke="#222" stroke-width="1.9" />
<rect x="427.7" y="826.9" width="51.7" height="65.1" fill="#00AFBB" stroke="#333" stroke-width="1.5" />
<line x1="427.7" y1="849.2" x2="479.4" y2="849.2" stroke="#333" stroke-width="2.6" />
<line x1="522.1" y1="736.4" x2="522.1" y2="1073.1" stroke="#222" stroke-width="1.9" />
<rect x="496.5" y="876.7" width="51.2" height="97.3" fill="#E7B800" stroke="#333" stroke-width="1.5" />
<line x1="496.5" y1="919.3" x2="547.7" y2="919.3" stroke="#333" stroke-width="2.6" />
<g fill="#000"><circle cx="453.5" cy="736.4" r="5.3"/><circle cx="453.5" cy="799.6" r="5.3"/><circle cx="444.6" cy="825.3" r="5.3"/><circle cx="453.5" cy="825.3" r="5.3"/><circle cx="462.4" cy="825.3" r="5.3"/><circle cx="449.05" cy="837.2" r="5.3"/><circle cx="457.95" cy="837.2" r="5.3"/><circle cx="449.05" cy="849.2" r="5.3"/><circle cx="457.95" cy="849.2" r="5.3"/><circle cx="453.5" cy="875.4" r="5.3"/><circle cx="453.5" cy="886.8" r="5.3"/><circle cx="449.05" cy="894.7" r="5.3"/><circle cx="457.95" cy="894.7" r="5.3"/><circle cx="453.5" cy="951.9" r="5.3"/><circle cx="453.5" cy="973.6" r="5.3"/><circle cx="453.5" cy="1011.2" r="5.3"/></g>
<g fill="#000"><circle cx="522.1" cy="736.4" r="5.3"/><circle cx="517.65" cy="787" r="5.3"/><circle cx="526.55" cy="787" r="5.3"/><circle cx="517.65" cy="847.1" r="5.3"/><circle cx="526.55" cy="847.1" r="5.3"/><circle cx="517.65" cy="875.4" r="5.3"/><circle cx="526.55" cy="875.4" r="5.3"/><circle cx="517.65" cy="891" r="5.3"/><circle cx="526.55" cy="891" r="5.3"/><circle cx="517.65" cy="912.7" r="5.3"/><circle cx="526.55" cy="912.7" r="5.3"/><circle cx="513.2" cy="922.4" r="5.3"/><circle cx="522.1" cy="922.4" r="5.3"/><circle cx="531" cy="922.4" r="5.3"/><circle cx="517.65" cy="956" r="5.3"/><circle cx="526.55" cy="956" r="5.3"/><circle cx="522.1" cy="967" r="5.3"/><circle cx="522.1" cy="981.9" r="5.3"/><circle cx="522.1" cy="1009.7" r="5.3"/><circle cx="522.1" cy="1031" r="5.3"/><circle cx="522.1" cy="1041.3" r="5.3"/><circle cx="517.65" cy="1073.1" r="5.3"/><circle cx="526.55" cy="1073.1" r="5.3"/></g>
<path d="M453.5 682.3 V670.3 H522.1 V682.3" fill="none" stroke="#111" stroke-width="1.8"/>
<text x="487.8" y="665.4" font-size="12" fill="#000" font-family="'Liberation Sans', Arial, sans-serif" text-anchor="middle" font-weight="bold" >*</text>
<rect x="413.1" y="651.1" width="149.9" height="447.1" fill="none" stroke="#505050" stroke-width="1.7" rx="2"/>
<line x1="453.5" y1="1098.2" x2="453.5" y2="1101.7" stroke="#333" stroke-width="1.6" />
<line x1="522.1" y1="1098.2" x2="522.1" y2="1101.7" stroke="#333" stroke-width="1.6" />
<line x1="93" y1="1021.2" x2="97.5" y2="1021.2" stroke="#333" stroke-width="1.6" />
<text x="90.5" y="1024.8" font-size="10" fill="#4d4d4d" font-family="'Liberation Sans', Arial, sans-serif" text-anchor="end" font-weight="normal" >1</text>
<line x1="93" y1="921" x2="97.5" y2="921" stroke="#333" stroke-width="1.6" />
<text x="90.5" y="924.6" font-size="10" fill="#4d4d4d" font-family="'Liberation Sans', Arial, sans-serif" text-anchor="end" font-weight="normal" >2</text>
<line x1="93" y1="820.8" x2="97.5" y2="820.8" stroke="#333" stroke-width="1.6" />
<text x="90.5" y="824.4" font-size="10" fill="#4d4d4d" font-family="'Liberation Sans', Arial, sans-serif" text-anchor="end" font-weight="normal" >3</text>
<line x1="93" y1="720.6" x2="97.5" y2="720.6" stroke="#333" stroke-width="1.6" />
<text x="90.5" y="724.2" font-size="10" fill="#4d4d4d" font-family="'Liberation Sans', Arial, sans-serif" text-anchor="end" font-weight="normal" >4</text>
<text transform="translate(62.8,957.8) rotate(-90)" font-size="33.5" font-family="Carlito, 'Liberation Sans', sans-serif" fill="#000" textLength="175" lengthAdjust="spacingAndGlyphs">TG22:6_34:1</text>
<text x="129.8" y="1144.3" font-size="32.5" fill="#000" font-family="Carlito, 'Liberation Sans', sans-serif" text-anchor="start" font-weight="normal" textLength="59.8" lengthAdjust="spacingAndGlyphs" >Mild</text>
<text x="263.6" y="1144.5" font-size="32.5" fill="#000" font-family="Carlito, 'Liberation Sans', sans-serif" text-anchor="start" font-weight="normal" textLength="133.6" lengthAdjust="spacingAndGlyphs" >Moderate</text>
<text x="452.5" y="1144.5" font-size="32.5" fill="#000" font-family="Carlito, 'Liberation Sans', sans-serif" text-anchor="start" font-weight="normal" textLength="90.1" lengthAdjust="spacingAndGlyphs" >Severe</text>
<line x1="595.95" y1="864.6" x2="595.95" y2="882.6" stroke="#333" stroke-width="1.6" />
<rect x="586.8" y="867.6" width="18.3" height="12" fill="#00AFBB" stroke="#333" stroke-width="1.6" />
<line x1="586.8" y1="873.6" x2="605.1" y2="873.6" stroke="#333" stroke-width="1.6" />
<line x1="595.95" y1="886.5" x2="595.95" y2="903.5" stroke="#333" stroke-width="1.6" />
<rect x="586.8" y="889.5" width="18.3" height="11" fill="#E7B800" stroke="#333" stroke-width="1.6" />
<line x1="586.8" y1="895" x2="605.1" y2="895" stroke="#333" stroke-width="1.6" />
<text x="629.1" y="879.9" font-size="21.3" fill="#000" font-family="Carlito, 'Liberation Sans', sans-serif" text-anchor="start" font-weight="normal" textLength="163.5" lengthAdjust="spacingAndGlyphs" >Non-hypertensive</text>
<text x="629.1" y="907.1" font-size="21.3" fill="#000" font-family="Carlito, 'Liberation Sans', sans-serif" text-anchor="start" font-weight="normal" textLength="122" lengthAdjust="spacingAndGlyphs" >Hypertensive</text>
<line x1="1037.75" y1="624.6" x2="1037.75" y2="1081.7" stroke="#f0f0f0" stroke-width="1.3" />
<line x1="1156.45" y1="624.6" x2="1156.45" y2="1081.7" stroke="#f0f0f0" stroke-width="1.3" />
<line x1="1275.15" y1="624.6" x2="1275.15" y2="1081.7" stroke="#f0f0f0" stroke-width="1.3" />
<line x1="1393.85" y1="624.6" x2="1393.85" y2="1081.7" stroke="#f0f0f0" stroke-width="1.3" />
<line x1="1512.55" y1="624.6" x2="1512.55" y2="1081.7" stroke="#f0f0f0" stroke-width="1.3" />
<line x1="1097.1" y1="624.6" x2="1097.1" y2="1081.7" stroke="#e6e6e6" stroke-width="1.8" />
<line x1="1215.8" y1="624.6" x2="1215.8" y2="1081.7" stroke="#e6e6e6" stroke-width="1.8" />
<line x1="1334.5" y1="624.6" x2="1334.5" y2="1081.7" stroke="#e6e6e6" stroke-width="1.8" />
<line x1="1453.2" y1="624.6" x2="1453.2" y2="1081.7" stroke="#e6e6e6" stroke-width="1.8" />
<line x1="1027.8" y1="644.8" x2="1550.4" y2="644.8" stroke="#e6e6e6" stroke-width="1.8" />
<line x1="1027.8" y1="679.53" x2="1550.4" y2="679.53" stroke="#e6e6e6" stroke-width="1.8" />
<line x1="1027.8" y1="714.26" x2="1550.4" y2="714.26" stroke="#e6e6e6" stroke-width="1.8" />
<line x1="1027.8" y1="748.99" x2="1550.4" y2="748.99" stroke="#e6e6e6" stroke-width="1.8" />
<line x1="1027.8" y1="783.72" x2="1550.4" y2="783.72" stroke="#e6e6e6" stroke-width="1.8" />
<line x1="1027.8" y1="818.45" x2="1550.4" y2="818.45" stroke="#e6e6e6" stroke-width="1.8" />
<line x1="1027.8" y1="853.18" x2="1550.4" y2="853.18" stroke="#e6e6e6" stroke-width="1.8" />
<line x1="1027.8" y1="887.91" x2="1550.4" y2="887.91" stroke="#e6e6e6" stroke-width="1.8" />
<line x1="1027.8" y1="922.64" x2="1550.4" y2="922.64" stroke="#e6e6e6" stroke-width="1.8" />
<line x1="1027.8" y1="957.37" x2="1550.4" y2="957.37" stroke="#e6e6e6" stroke-width="1.8" />
<line x1="1027.8" y1="992.1" x2="1550.4" y2="992.1" stroke="#e6e6e6" stroke-width="1.8" />
<line x1="1027.8" y1="1026.83" x2="1550.4" y2="1026.83" stroke="#e6e6e6" stroke-width="1.8" />
<line x1="1027.8" y1="1061.56" x2="1550.4" y2="1061.56" stroke="#e6e6e6" stroke-width="1.8" />
<rect x="1027.8" y="624.6" width="522.6" height="457.1" fill="none" stroke="#b3b3b3" stroke-width="1.8" />
<line x1="1023.3" y1="644.8" x2="1027.8" y2="644.8" stroke="#b3b3b3" stroke-width="1.5" />
<text x="1018.3" y="650" font-size="14.6" fill="#4d4d4d" font-family="'Liberation Sans', Arial, sans-serif" text-anchor="end" font-weight="normal" >Ceramides</text>
<line x1="1023.3" y1="679.53" x2="1027.8" y2="679.53" stroke="#b3b3b3" stroke-width="1.5" />
<text x="1018.3" y="684.73" font-size="14.6" fill="#4d4d4d" font-family="'Liberation Sans', Arial, sans-serif" text-anchor="end" font-weight="normal" >Triacylglycerols</text>
<line x1="1023.3" y1="714.26" x2="1027.8" y2="714.26" stroke="#b3b3b3" stroke-width="1.5" />
<text x="1018.3" y="719.46" font-size="14.6" fill="#4d4d4d" font-family="'Liberation Sans', Arial, sans-serif" text-anchor="end" font-weight="normal" >Metabolism Indicators</text>
<line x1="1023.3" y1="748.99" x2="1027.8" y2="748.99" stroke="#b3b3b3" stroke-width="1.5" />
<text x="1018.3" y="754.19" font-size="14.6" fill="#4d4d4d" font-family="'Liberation Sans', Arial, sans-serif" text-anchor="end" font-weight="normal" >Glycerophospholipids</text>
<line x1="1023.3" y1="783.72" x2="1027.8" y2="783.72" stroke="#b3b3b3" stroke-width="1.5" />
<text x="1018.3" y="788.92" font-size="14.6" fill="#4d4d4d" font-family="'Liberation Sans', Arial, sans-serif" text-anchor="end" font-weight="normal" textLength="334" lengthAdjust="spacingAndGlyphs" >Long Chain Polyunsaturated Fatty Acid (n3 and n6)</text>
<line x1="1023.3" y1="818.45" x2="1027.8" y2="818.45" stroke="#b3b3b3" stroke-width="1.5" />
<text x="1018.3" y="823.65" font-size="14.6" fill="#4d4d4d" font-family="'Liberation Sans', Arial, sans-serif" text-anchor="end" font-weight="normal" >Glycosylceramides</text>
<line x1="1023.3" y1="853.18" x2="1027.8" y2="853.18" stroke="#b3b3b3" stroke-width="1.5" />
<text x="1018.3" y="858.38" font-size="14.6" fill="#4d4d4d" font-family="'Liberation Sans', Arial, sans-serif" text-anchor="end" font-weight="normal" >Fatty Acids</text>
<line x1="1023.3" y1="887.91" x2="1027.8" y2="887.91" stroke="#b3b3b3" stroke-width="1.5" />
<text x="1018.3" y="893.11" font-size="14.6" fill="#4d4d4d" font-family="'Liberation Sans', Arial, sans-serif" text-anchor="end" font-weight="normal" >Corticosteroids</text>
<line x1="1023.3" y1="922.64" x2="1027.8" y2="922.64" stroke="#b3b3b3" stroke-width="1.5" />
<text x="1018.3" y="927.84" font-size="14.6" fill="#4d4d4d" font-family="'Liberation Sans', Arial, sans-serif" text-anchor="end" font-weight="normal" >TCA Cycle</text>
<line x1="1023.3" y1="957.37" x2="1027.8" y2="957.37" stroke="#b3b3b3" stroke-width="1.5" />
<text x="1018.3" y="962.57" font-size="14.6" fill="#4d4d4d" font-family="'Liberation Sans', Arial, sans-serif" text-anchor="end" font-weight="normal" >Carboxylic Acids</text>
<line x1="1023.3" y1="992.1" x2="1027.8" y2="992.1" stroke="#b3b3b3" stroke-width="1.5" />
<text x="1018.3" y="997.3" font-size="14.6" fill="#4d4d4d" font-family="'Liberation Sans', Arial, sans-serif" text-anchor="end" font-weight="normal" >Secondary Bile Acid Metabolism</text>
<line x1="1023.3" y1="1026.83" x2="1027.8" y2="1026.83" stroke="#b3b3b3" stroke-width="1.5" />
<text x="1018.3" y="1032.03" font-size="14.6" fill="#4d4d4d" font-family="'Liberation Sans', Arial, sans-serif" text-anchor="end" font-weight="normal" >Indoles Derivatives</text>
<line x1="1023.3" y1="1061.56" x2="1027.8" y2="1061.56" stroke="#b3b3b3" stroke-width="1.5" />
<text x="1018.3" y="1066.76" font-size="14.6" fill="#4d4d4d" font-family="'Liberation Sans', Arial, sans-serif" text-anchor="end" font-weight="normal" >Benzoate Metabolism</text>
<line x1="1097.1" y1="1081.7" x2="1097.1" y2="1086.2" stroke="#b3b3b3" stroke-width="1.5" />
<text x="1097.1" y="1101.5" font-size="14.6" fill="#4d4d4d" font-family="'Liberation Sans', Arial, sans-serif" text-anchor="middle" font-weight="normal" >5</text>
<line x1="1215.8" y1="1081.7" x2="1215.8" y2="1086.2" stroke="#b3b3b3" stroke-width="1.5" />
<text x="1215.8" y="1101.5" font-size="14.6" fill="#4d4d4d" font-family="'Liberation Sans', Arial, sans-serif" text-anchor="middle" font-weight="normal" >10</text>
<line x1="1334.5" y1="1081.7" x2="1334.5" y2="1086.2" stroke="#b3b3b3" stroke-width="1.5" />
<text x="1334.5" y="1101.5" font-size="14.6" fill="#4d4d4d" font-family="'Liberation Sans', Arial, sans-serif" text-anchor="middle" font-weight="normal" >15</text>
<line x1="1453.2" y1="1081.7" x2="1453.2" y2="1086.2" stroke="#b3b3b3" stroke-width="1.5" />
<text x="1453.2" y="1101.5" font-size="14.6" fill="#4d4d4d" font-family="'Liberation Sans', Arial, sans-serif" text-anchor="middle" font-weight="normal" >20</text>
<text x="1289" y="1121.3" font-size="17.3" fill="#000" font-family="'Liberation Sans', Arial, sans-serif" text-anchor="middle" font-weight="normal" textLength="181" lengthAdjust="spacingAndGlyphs" >-Log nominal p-values</text>
<path d="M1050.8 676.3 L1054 679.5 L1050.8 682.7 L1047.6 679.5Z" fill="#ffb6c1"/>
<circle cx="1124" cy="782" r="6.5" fill="#ffb6c1"/>
<path d="M1093.6 773.3 L1103.3 783.5 L1093.6 793.7 L1083.9 783.5Z" fill="#ffb6c1"/>
<rect x="1095.8" y="807.4" width="21.2" height="21.1" fill="#ffb6c1" stroke="none" stroke-width="0" />
<path d="M1081.3 839 L1093.9 860.5 L1068.7 860.5Z" fill="#ffb6c1"/>
<circle cx="1079.8" cy="887.8" r="9.9" fill="#ffb6c1"/>
<path d="M1076 913.7 L1085.2 922.9 L1076 932.1 L1066.8 922.9Z" fill="#ffb6c1"/>
<circle cx="1078.8" cy="922.9" r="9.7" fill="#ffb6c1"/>
<path d="M1065.2 949.5 L1072.7 957 L1065.2 964.5 L1057.7 957Z" fill="#ffb6c1"/>
<rect x="1053.6" y="984.4" width="15.1" height="15.1" fill="#ffb6c1" stroke="none" stroke-width="0" />
<path d="M1053.2 1019.7 L1058.8 1030.2 L1047.6 1030.2Z" fill="#ffb6c1"/>
<circle cx="1050.8" cy="1061.6" r="2.6" fill="#ffb6c1"/>
<path d="M1308 628.7 L1322.5 653.5 L1293.5 653.5Z" fill="#ff0000"/>
<path d="M1526.9 668.2 L1537.8 679.4 L1526.9 690.6 L1516 679.4Z" fill="#ff0000"/>
<path d="M1263.6 698.1 L1278.1 722.9 L1249.1 722.9Z" fill="#ff0000"/>
<rect x="1120.8" y="738.1" width="22.5" height="22" fill="#ff0000" stroke="none" stroke-width="0" />
<path d="M1119.5 767.4 L1134 792 L1105 792Z" fill="#ff0000"/>
<path d="M1113.8 802.2 L1128 826.8 L1099.6 826.8Z" fill="#ff0000"/>
<text x="1579" y="648" font-size="16.6" fill="#000" font-family="'Liberation Sans', Arial, sans-serif" text-anchor="start" font-weight="normal" textLength="141" lengthAdjust="spacingAndGlyphs" >Covid19_severity</text>
<rect x="1586.9" y="669.6" width="11.8" height="11.6" fill="#000" stroke="none" stroke-width="0" />
<circle cx="1592.8" cy="703.6" r="6.4" fill="#000"/>
<path d="M1592.8 724.6 L1600.2 736.5 L1585.4 736.5Z" fill="#000"/>
<path d="M1592.8 754.8 L1599 761 L1592.8 767.2 L1586.6 761Z" fill="#000"/>
<text x="1616.4" y="680.3" font-size="14.3" fill="#000" font-family="'Liberation Sans', Arial, sans-serif" text-anchor="start" font-weight="normal" >mild</text>
<text x="1616.4" y="709" font-size="14.3" fill="#000" font-family="'Liberation Sans', Arial, sans-serif" text-anchor="start" font-weight="normal" >mixed</text>
<text x="1616.4" y="737.7" font-size="14.3" fill="#000" font-family="'Liberation Sans', Arial, sans-serif" text-anchor="start" font-weight="normal" >moderate</text>
<text x="1616.4" y="766.4" font-size="14.3" fill="#000" font-family="'Liberation Sans', Arial, sans-serif" text-anchor="start" font-weight="normal" >severe</text>
<text x="1579" y="826" font-size="16.6" fill="#000" font-family="'Liberation Sans', Arial, sans-serif" text-anchor="start" font-weight="normal" textLength="143.3" lengthAdjust="spacingAndGlyphs" >FDR_significance</text>
<circle cx="1592.5" cy="851.8" r="6.8" fill="#ff0000"/>
<circle cx="1592.5" cy="880.7" r="6.8" fill="#ffb6c1"/>
<text x="1616.8" y="856.9" font-size="14.3" fill="#000" font-family="'Liberation Sans', Arial, sans-serif" text-anchor="start" font-weight="normal" >YES</text>
<text x="1616.8" y="885.7" font-size="14.3" fill="#000" font-family="'Liberation Sans', Arial, sans-serif" text-anchor="start" font-weight="normal" >NO</text>
<text x="1579" y="946.4" font-size="16.6" fill="#000" font-family="'Liberation Sans', Arial, sans-serif" text-anchor="start" font-weight="normal" textLength="131.4" lengthAdjust="spacingAndGlyphs" >Nominal_pvalue</text>
<circle cx="1592.4" cy="972.2" r="11.4" fill="#000"/>
<text x="1616.2" y="977.4" font-size="14.3" fill="#000" font-family="'Liberation Sans', Arial, sans-serif" text-anchor="start" font-weight="normal" >1e-02</text>
<circle cx="1592.4" cy="1000.7" r="9.9" fill="#000"/>
<text x="1616.2" y="1005.9" font-size="14.3" fill="#000" font-family="'Liberation Sans', Arial, sans-serif" text-anchor="start" font-weight="normal" >2e-02</text>
<circle cx="1592.4" cy="1029.5" r="8.7" fill="#000"/>
<text x="1616.2" y="1034.7" font-size="14.3" fill="#000" font-family="'Liberation Sans', Arial, sans-serif" text-anchor="start" font-weight="normal" >3e-02</text>
<circle cx="1592.4" cy="1058" r="6.6" fill="#000"/>
<text x="1616.2" y="1063.2" font-size="14.3" fill="#000" font-family="'Liberation Sans', Arial, sans-serif" text-anchor="start" font-weight="normal" >4e-02</text>
<text x="13.4" y="25" font-size="31" fill="#000" font-family="'Liberation Sans', Arial, sans-serif" text-anchor="start" font-weight="bold" >A</text>
<text x="923.2" y="25" font-size="31" fill="#000" font-family="'Liberation Sans', Arial, sans-serif" text-anchor="start" font-weight="bold" >B</text>
<text x="12.6" y="573.8" font-size="31" fill="#000" font-family="'Liberation Sans', Arial, sans-serif" text-anchor="start" font-weight="bold" >C</text>
<text x="923.2" y="573.6" font-size="31" fill="#000" font-family="'Liberation Sans', Arial, sans-serif" text-anchor="start" font-weight="bold" >D</text>
</g>
</svg>
</body></html>
